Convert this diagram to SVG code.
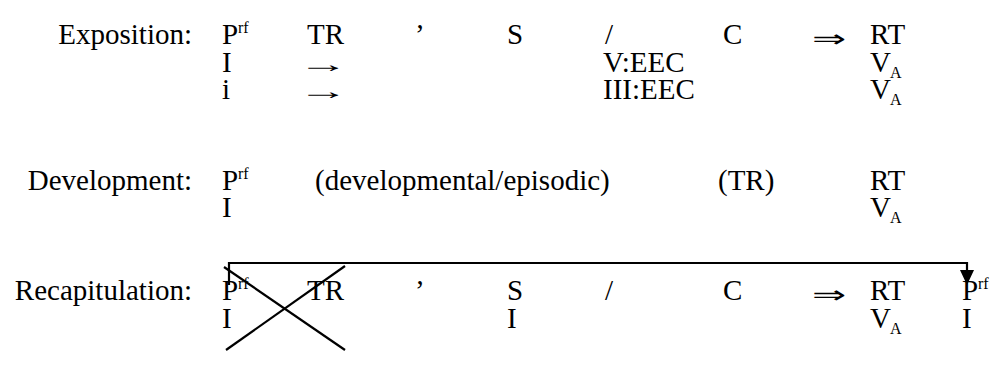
<svg xmlns="http://www.w3.org/2000/svg" width="998" height="377" viewBox="0 0 998 377" font-family="Liberation Serif, Times New Roman, serif">
<style>
.t{font-family:"Liberation Serif","Times New Roman",serif;font-size:29px;fill:#000}
.lbl{text-anchor:end}
.sup{font-size:16px}
.sub{font-size:16px}
.ln{stroke:#000;stroke-width:2.2;fill:none}
.ar{font-size:24px}
</style>
<rect width="998" height="377" fill="#fff"/>
<g id="exposition" class="t">
<text class="lbl" x="192" y="44">Exposition:</text>
<text x="222" y="44">P</text><text class="sup" x="238" y="33">rf</text>
<text x="307" y="44">TR</text>
<text x="415" y="44">’</text>
<text x="507" y="44">S</text>
<text x="605" y="44">/</text>
<text x="723" y="44">C</text>
<text class="ar" transform="translate(812,47) scale(1.7,1)">⇒</text>
<text x="870" y="44">RT</text>
<text x="222" y="72">I</text>
<text class="ar" transform="translate(298,72) scale(2.1,1)">→</text>
<text x="603" y="72">V:EEC</text>
<text x="870" y="72">V</text><text class="sub" x="890" y="78">A</text>
<text x="222" y="99">i</text>
<text class="ar" transform="translate(298,99) scale(2.1,1)">→</text>
<text x="603" y="99">III:EEC</text>
<text x="870" y="99">V</text><text class="sub" x="890" y="105">A</text>
</g>
<g id="development" class="t">
<text class="lbl" x="192" y="190">Development:</text>
<text x="222" y="190">P</text><text class="sup" x="238" y="179">rf</text>
<text x="315" y="190">(developmental/episodic)</text>
<text x="718" y="190">(TR)</text>
<text x="870" y="190">RT</text>
<text x="222" y="217">I</text>
<text x="870" y="217">V</text><text class="sub" x="890" y="223">A</text>
</g>
<g id="recapitulation" class="t">
<text class="lbl" x="192" y="300">Recapitulation:</text>
<text x="222" y="300">P</text><text class="sup" x="238" y="289">rf</text>
<text x="307" y="300">TR</text>
<text x="415" y="300">’</text>
<text x="507" y="300">S</text>
<text x="605" y="300">/</text>
<text x="723" y="300">C</text>
<text class="ar" transform="translate(812,303) scale(1.7,1)">⇒</text>
<text x="870" y="300">RT</text>
<text x="962" y="300">P</text><text class="sup" x="978" y="289">rf</text>
<text x="222" y="328">I</text>
<text x="507" y="328">I</text>
<text x="870" y="328">V</text><text class="sub" x="890" y="334">A</text>
<text x="962" y="328">I</text>
</g>
<g id="connectors">
<polyline class="ln" points="229,285 229,263 967,263 967,272"/>
<polygon points="960,270 974,270 967,285" fill="#000"/>
<line class="ln" x1="224" y1="267" x2="345" y2="350"/>
<line class="ln" x1="226" y1="350" x2="345" y2="266"/>
</g>
</svg>
